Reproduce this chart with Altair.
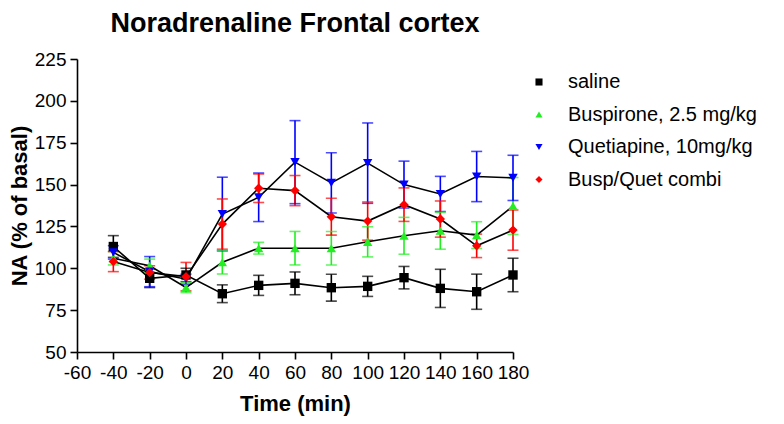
import altair as alt
import pandas as pd

times = [-40, -20, 0, 20, 40, 60, 80, 100, 120, 140, 160, 180]
series_names = ["saline", "Buspirone, 2.5 mg/kg", "Quetiapine, 10mg/kg", "Busp/Quet combi"]
series_colors = ["#000000", "#22ee22", "#0000ff", "#ff0000"]
series_shapes = ["square", "triangle-up", "triangle-down", "diamond"]

saline_mean = [113, 94, 96, 84.8, 89.8, 91, 88.4, 89.2, 94.4, 88, 86, 96]
saline_sem = [6.5, 5.5, 4, 5.3, 6, 6.8, 8, 6, 6.7, 11.4, 10.5, 10]

busp_mean = [106, 101.5, 88.5, 103.6, 112, 112, 112, 115.8, 119.4, 122.4, 119.8, 137.2]
busp_sem = [4, 4, 3, 7, 3.5, 10, 10, 9, 11, 11, 8, 17]

quet_mean = [109.5, 98, 93.5, 132.4, 142.4, 163.4, 151, 162.8, 150, 144.4, 154.8, 154]
quet_sem = [4, 9, 3, 22, 14.5, 24.8, 18, 24, 14, 10.5, 15, 13.5]

combi_mean = [104, 97.5, 95, 126.4, 147.8, 146.4, 130.8, 128.2, 138, 129.4, 113.4, 122.8]
combi_sem = [6, 4, 8.5, 15, 8.5, 9, 11, 11.4, 10, 10.8, 7, 12]

x_ticks = [-60, -40, -20, 0, 20, 40, 60, 80, 100, 120, 140, 160, 180]
y_ticks = [50, 75, 100, 125, 150, 175, 200, 225]

rows = []
for name, col, means, sems in zip(series_names, series_colors,
                                  [saline_mean, busp_mean, quet_mean, combi_mean],
                                  [saline_sem, busp_sem, quet_sem, combi_sem]):
    for t, m, s in zip(times, means, sems):
        rows.append({"series": name, "ecol": col, "time": t, "mean": m, "lo": m - s, "hi": m + s})
df = pd.DataFrame(rows)

FONT = "Liberation Sans, Arial, sans-serif"

xscale = alt.Scale(domain=[-60, 180], nice=False, zero=False)
yscale = alt.Scale(domain=[50, 225], nice=False, zero=False)
cscale = alt.Scale(domain=series_names, range=series_colors)
sscale = alt.Scale(domain=series_names, range=series_shapes)

x_axis = alt.Axis(values=x_ticks, title="Time (min)", labelOverlap=False, labelFlush=False,
                  titleY=58, titleBaseline="alphabetic", labelExpr="'' + datum.value")
y_axis = alt.Axis(values=y_ticks, title="NA (% of basal)", labelOverlap=False, labelFlush=False,
                  titleX=-51, titleBaseline="alphabetic", labelExpr="'' + datum.value")


def X(field):
    return alt.X(field, scale=xscale, axis=x_axis)


def Y(field):
    return alt.Y(field, scale=yscale, axis=y_axis)


base = alt.Chart(df)

err_rule = base.mark_rule(strokeWidth=1.6).encode(
    x=X("time:Q"),
    y=Y("lo:Q"),
    y2="hi:Q",
    stroke=alt.Stroke("ecol:N", scale=None),
)
cap_lo = base.mark_tick(orient="horizontal", size=11, thickness=1.6).encode(
    x=X("time:Q"),
    y=Y("lo:Q"),
    fill=alt.Fill("ecol:N", scale=None),
)
cap_hi = base.mark_tick(orient="horizontal", size=11, thickness=1.6).encode(
    x=X("time:Q"),
    y=Y("hi:Q"),
    fill=alt.Fill("ecol:N", scale=None),
)
lines = base.mark_line(color="black", strokeWidth=1.6).encode(
    x=X("time:Q"),
    y=Y("mean:Q"),
    detail="series:N",
)
leg = alt.Legend(title=None, orient="none", legendX=452, legendY=13,
                 labelFontSize=20, labelFont=FONT, labelColor="black", labelLimit=400,
                 symbolSize=50, rowPadding=12.5, labelOffset=19,
                 padding=0, symbolStrokeWidth=0)
points = base.mark_point(filled=True, size=88, opacity=1).encode(
    x=X("time:Q"),
    y=Y("mean:Q"),
    color=alt.Color("series:N", scale=cscale, legend=leg),
    shape=alt.Shape("series:N", scale=sscale, legend=leg),
)

chart = alt.layer(err_rule, cap_lo, cap_hi, lines, points).properties(
    width=436,
    height=293,
    title=alt.Title("Noradrenaline Frontal cortex", anchor="middle", frame="group",
                    font=FONT, fontSize=27, fontWeight="bold", color="black", offset=12),
    autosize=alt.AutoSizeParams(type="none"),
    padding={"left": 69, "top": 51, "right": 263, "bottom": 64},
    background="white",
).configure_view(stroke=None).configure_axis(
    grid=False,
    domainColor="black",
    domainWidth=1.6,
    tickColor="black",
    tickWidth=1.6,
    tickSize=7,
    labelFont=FONT,
    labelFontSize=19,
    labelColor="black",
    labelPadding=4,
    titleFont=FONT,
    titleFontSize=22,
    titleFontWeight="bold",
    titleColor="black",
)

chart.save("out.html", embed_options={"renderer": "svg", "actions": False})
